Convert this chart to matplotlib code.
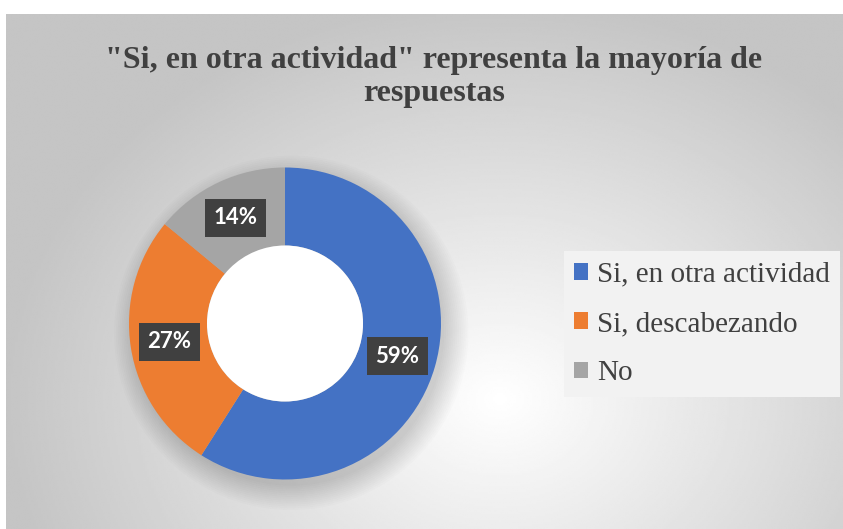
import matplotlib.pyplot as plt
import numpy as np
from matplotlib.patches import Rectangle

# data
categories = ["Si, en otra actividad", "Si, descabezando", "No"]
values = [59, 27, 14]
colors = ["#4472c4", "#ed7d31", "#a5a5a5"]
title = '"Si, en otra actividad" representa la mayoría de\nrespuestas'

W, H = 843, 529
fig = plt.figure(figsize=(W / 100, H / 100), dpi=100)
fig.patch.set_facecolor("white")

# chart area with radial gradient background
x0, y_top = 6, 14
bg = fig.add_axes([x0 / W, 0, 1 - x0 / W, 1 - y_top / H])
bg.set_axis_off()
gx, gy = np.meshgrid(np.linspace(x0, W, 400), np.linspace(y_top, H, 260))
d = np.hypot((gx - 500) / 520, (gy - 400) / 420)
shade = np.clip(1.0 - 0.24 * d, 0.77, 1.0)
bg.imshow(shade, cmap="gray", vmin=0, vmax=1, aspect="auto",
          extent=[0, 1, 0, 1], interpolation="bilinear")
bg.set_xlim(0, 1)
bg.set_ylim(0, 1)

# donut
cx, cy, r = 285, 323.5, 156
ax = fig.add_axes([(cx - r) / W, (H - cy - r) / H, 2 * r / W, 2 * r / H])
ax.set_axis_off()

# soft shadow
for k in range(14):
    sh = plt.Circle((0.04, -0.06), 0.98 + 0.012 * k, color="black",
                    alpha=0.012, lw=0, clip_on=False)
    ax.add_patch(sh)

wedges, _, autotexts = ax.pie(
    values, colors=colors, startangle=90, counterclock=False,
    radius=1.0, wedgeprops=dict(width=0.5, linewidth=0),
    autopct=lambda p: f"{p:.0f}%", pctdistance=0.75,
    textprops=dict(color="white", fontsize=16, fontweight="bold",
                   family="Lato"),
)
hole = plt.Circle((0, 0), 0.5, color="white", lw=0)
ax.add_patch(hole)
for t in autotexts:
    t.set_bbox(dict(boxstyle="square,pad=0.38", facecolor="#404040",
                    edgecolor="none"))
ax.set_xlim(-1, 1)
ax.set_ylim(-1, 1)

fig.text(434 / W, 1 - 77 / H, title, ha="center", va="center",
         fontsize=23, fontweight="bold", family="Liberation Serif",
         color="#404040", linespacing=1.18)

handles = [Rectangle((0, 0), 1, 1, facecolor=c, edgecolor="none") for c in colors]
leg = fig.legend(handles, categories, loc="center left",
                 bbox_to_anchor=(549 / W, 1 - 324 / H),
                 prop=dict(family="Liberation Serif", size=21),
                 labelcolor="#404040", frameon=True, fancybox=False,
                 handlelength=0.5, handleheight=0.5, handletextpad=0.3,
                 labelspacing=0.8, borderpad=0.35)
leg.get_frame().set_facecolor("#f2f2f2")
leg.get_frame().set_edgecolor("none")
leg.get_frame().set_alpha(1)

fig.savefig("out.png", dpi=100)
